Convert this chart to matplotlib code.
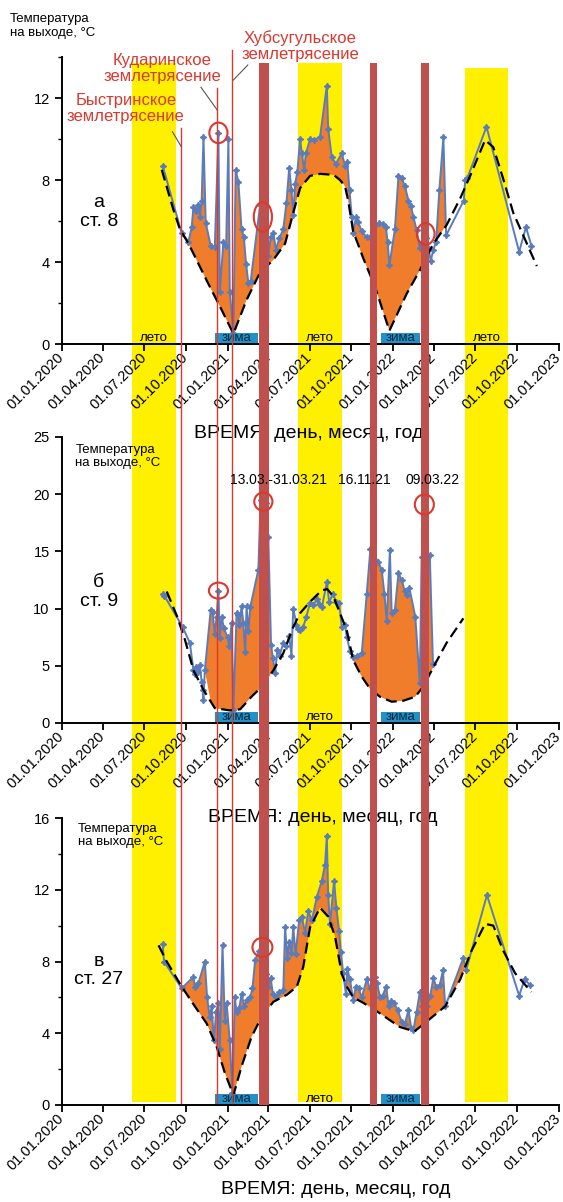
import numpy as np
import pandas as pd
import matplotlib
matplotlib.use("Agg")
import matplotlib.pyplot as plt
import matplotlib.dates as mdates
import matplotlib.transforms as mtransforms
from matplotlib.patches import Ellipse
from matplotlib.ticker import MultipleLocator

plt.rcParams['font.family'] = ['Liberation Sans', 'DejaVu Sans']

# --- ст. 8 ---
st8_dates = ["11.08.2020", "22.09.2020", "07.10.2020", "14.10.2020", "18.10.2020", "24.10.2020",
             "29.10.2020", "01.11.2020", "05.11.2020", "09.11.2020", "14.11.2020", "25.11.2020",
             "04.12.2020", "12.12.2020", "15.12.2020", "23.12.2020", "29.12.2020", "03.01.2021",
             "06.01.2021", "14.01.2021", "19.01.2021", "25.01.2021", "01.02.2021", "06.02.2021",
             "11.02.2021", "16.02.2021", "21.02.2021", "14.03.2021", "17.03.2021", "21.03.2021",
             "27.03.2021", "01.04.2021", "06.04.2021", "12.04.2021", "18.04.2021", "25.04.2021",
             "04.05.2021", "11.05.2021", "17.05.2021", "22.05.2021", "26.05.2021", "30.05.2021",
             "04.06.2021", "10.06.2021", "14.06.2021", "19.06.2021", "23.06.2021", "02.07.2021",
             "11.07.2021", "24.07.2021", "08.08.2021", "11.08.2021", "19.08.2021", "28.08.2021",
             "10.09.2021", "17.09.2021", "22.09.2021", "27.09.2021", "02.10.2021", "05.10.2021",
             "11.10.2021", "16.10.2021", "24.10.2021", "04.11.2021", "11.11.2021", "02.12.2021",
             "09.12.2021", "16.12.2021", "20.12.2021", "24.12.2021", "05.01.2022", "13.01.2022",
             "20.01.2022", "27.01.2022", "04.02.2022", "09.02.2022", "15.02.2022", "22.02.2022",
             "01.03.2022", "10.03.2022", "15.03.2022", "20.03.2022", "25.03.2022", "31.03.2022",
             "06.04.2022", "13.04.2022", "22.04.2022", "28.04.2022", "06.06.2022", "09.06.2022",
             "14.06.2022", "26.07.2022", "06.10.2022", "21.10.2022", "02.11.2022"]
st8_temp = [8.7, 5.4, 5.0, 5.7, 6.7, 6.5,
            6.8, 6.2, 7.0, 10.1, 5.9, 4.8,
            4.75, 10.3, 2.55, 5.0, 4.8, 10.0,
            2.55, 0.55, 8.5, 7.9, 5.6, 5.2,
            3.9, 3.0, 3.05, 6.8, 6.55, 6.0,
            4.8, 4.3, 5.2, 5.4, 4.6, 5.15,
            5.6, 6.9, 8.6, 7.5, 6.3, 7.8,
            8.4, 10.0, 9.3, 8.5, 9.3, 10.0,
            9.95, 10.1, 12.6, 10.5, 9.1, 8.8,
            9.3, 8.7, 8.9, 7.5, 6.2, 5.4,
            6.2, 5.95, 5.5, 5.2, 5.2, 5.9,
            5.85, 5.7, 5.0, 3.85, 5.6, 8.2,
            8.1, 7.7, 7.0, 6.75, 6.2, 5.55,
            4.7, 5.4, 5.15, 4.7, 4.05, 4.6,
            5.0, 7.5, 10.1, 5.3, 7.0, 8.0,
            8.1, 10.6, 4.5, 5.7, 4.8]
st8_trend_dates = ["09.08.2020", "03.09.2020", "18.09.2020", "07.10.2020", "16.11.2020", "16.12.2020",
                   "14.01.2021", "12.02.2021", "14.03.2021", "12.04.2021", "08.05.2021", "26.05.2021",
                   "10.06.2021", "02.07.2021", "24.07.2021", "23.08.2021", "06.09.2021", "17.09.2021",
                   "24.09.2021", "05.10.2021", "27.10.2021", "22.11.2021", "24.12.2021", "31.01.2022",
                   "01.03.2022", "31.03.2022", "29.04.2022", "29.05.2022", "20.06.2022", "23.07.2022",
                   "10.08.2022", "01.09.2022", "23.09.2022", "14.11.2022"]
st8_trend = [8.5, 6.6, 5.6, 4.9, 3.1, 1.8,
             0.5, 2.15, 3.5, 4.1, 4.9, 6.4,
             7.6, 8.2, 8.3, 8.25, 8.0, 7.7,
             7.0, 5.5, 4.2, 2.8, 0.65, 2.45,
             3.6, 4.9, 5.8, 7.1, 8.2, 9.95,
             9.6, 8.05, 6.4, 3.8]
st8_fill = [("01.10.2020", "15.05.2022")]

# --- ст. 9 ---
st9_dates = ["11.08.2020", "15.08.2020", "24.09.2020", "10.10.2020", "18.10.2020", "21.10.2020",
             "24.10.2020", "28.10.2020", "01.11.2020", "05.11.2020", "07.11.2020", "09.11.2020",
             "12.11.2020", "25.11.2020", "29.11.2020", "04.12.2020", "08.12.2020", "12.12.2020",
             "15.12.2020", "19.12.2020", "24.12.2020", "01.01.2021", "05.01.2021", "10.01.2021",
             "14.01.2021", "21.01.2021", "24.01.2021", "27.01.2021", "01.02.2021", "05.02.2021",
             "09.02.2021", "12.02.2021", "16.02.2021", "20.02.2021", "10.03.2021", "15.03.2021",
             "19.03.2021", "27.03.2021", "01.04.2021", "07.04.2021", "11.04.2021", "16.04.2021",
             "21.04.2021", "26.04.2021", "04.05.2021", "11.05.2021", "17.05.2021", "22.05.2021",
             "26.05.2021", "02.06.2021", "06.06.2021", "10.06.2021", "17.06.2021", "24.06.2021",
             "02.07.2021", "09.07.2021", "17.07.2021", "22.07.2021", "28.07.2021", "08.08.2021",
             "13.08.2021", "22.08.2021", "28.08.2021", "04.09.2021", "10.09.2021", "17.09.2021",
             "21.09.2021", "28.09.2021", "05.10.2021", "13.10.2021", "24.10.2021", "04.11.2021",
             "12.11.2021", "29.11.2021", "07.12.2021", "13.12.2021", "18.12.2021", "25.12.2021",
             "29.12.2021", "05.01.2022", "13.01.2022", "20.01.2022", "27.01.2022", "01.02.2022",
             "06.02.2022", "19.02.2022", "01.03.2022", "05.03.2022", "12.03.2022", "17.03.2022",
             "23.03.2022", "30.03.2022"]
st9_temp = [11.3, 11.1, 8.4, 7.0, 4.6, 4.3,
            4.9, 4.5, 5.1, 3.6, 2.9, 2.0,
            4.6, 9.9, 9.7, 7.8, 9.3, 11.5,
            7.4, 9.3, 8.3, 7.5, 6.7, 8.7,
            1.1, 9.6, 9.4, 8.6, 10.2, 8.7,
            6.2, 10.2, 8.0, 10.1, 13.4, 19.5,
            19.8, 19.2, 16.3, 6.8, 5.7, 4.4,
            6.4, 5.9, 7.0, 6.7, 7.6, 5.9,
            10.0, 8.6, 8.2, 8.1, 8.4, 9.3,
            10.5, 10.3, 10.8, 10.4, 10.1, 12.3,
            10.6, 11.3, 10.6, 10.5, 8.4, 8.55,
            7.55, 6.3, 5.8, 5.9, 6.1, 11.3,
            15.2, 14.1, 13.4, 11.3, 8.9, 15.1,
            9.6, 9.9, 13.1, 12.5, 11.5, 11.2,
            11.8, 9.3, 3.5, 14.5, 19.3, 14.3,
            14.7, 5.2]
st9_trend_dates = ["20.08.2020", "12.09.2020", "29.09.2020", "18.10.2020", "09.11.2020", "04.12.2020",
                   "06.01.2021", "29.01.2021", "23.02.2021", "21.03.2021", "12.04.2021", "04.05.2021",
                   "26.05.2021", "10.06.2021", "02.07.2021", "28.07.2021", "09.08.2021", "22.08.2021",
                   "06.09.2021", "21.09.2021", "05.10.2021", "24.10.2021", "11.11.2021", "03.12.2021",
                   "29.12.2021", "24.01.2022", "19.02.2022", "09.03.2022", "31.03.2022", "29.04.2022",
                   "05.06.2022"]
st9_trend = [11.5, 9.3, 7.3, 4.6, 2.9, 1.3,
             1.1, 1.2, 2.3, 3.3, 4.6, 6.1,
             8.4, 9.6, 10.6, 11.6, 11.7, 11.1,
             9.6, 8.1, 5.5, 4.05, 3.0, 2.3,
             1.86, 1.95, 2.3, 3.2, 4.9, 7.0,
             9.15]
st9_fill = [("15.11.2020", "20.04.2021"), ("01.10.2021", "10.04.2022")]

# --- ст. 27 ---
st27_dates = ["11.08.2020", "14.08.2020", "22.09.2020", "18.10.2020", "21.10.2020", "29.10.2020",
              "12.11.2020", "17.11.2020", "23.11.2020", "27.11.2020", "02.12.2020", "07.12.2020",
              "12.12.2020", "15.12.2020", "21.12.2020", "26.12.2020", "30.12.2020", "06.01.2021",
              "12.01.2021", "17.01.2021", "21.01.2021", "27.01.2021", "01.02.2021", "07.02.2021",
              "12.02.2021", "20.02.2021", "25.02.2021", "03.03.2021", "12.03.2021", "17.03.2021",
              "22.03.2021", "27.03.2021", "01.04.2021", "06.04.2021", "11.04.2021", "17.04.2021",
              "25.04.2021", "04.05.2021", "08.05.2021", "13.05.2021", "17.05.2021", "22.05.2021",
              "26.05.2021", "31.05.2021", "08.06.2021", "14.06.2021", "21.06.2021", "28.06.2021",
              "06.07.2021", "17.07.2021", "28.07.2021", "04.08.2021", "08.08.2021", "11.08.2021",
              "15.08.2021", "24.08.2021", "29.08.2021", "04.09.2021", "08.09.2021", "13.09.2021",
              "19.09.2021", "22.09.2021", "28.09.2021", "05.10.2021", "11.10.2021", "17.10.2021",
              "24.10.2021", "04.11.2021", "11.11.2021", "22.11.2021", "27.11.2021", "03.12.2021",
              "09.12.2021", "17.12.2021", "22.12.2021", "27.12.2021", "03.01.2022", "11.01.2022",
              "20.01.2022", "27.01.2022", "04.02.2022", "10.02.2022", "15.02.2022", "22.02.2022",
              "01.03.2022", "06.03.2022", "11.03.2022", "17.03.2022", "24.03.2022", "31.03.2022",
              "06.04.2022", "14.04.2022", "21.04.2022", "26.04.2022", "05.06.2022", "11.06.2022",
              "27.07.2022", "06.10.2022", "18.10.2022", "30.10.2022"]
st27_temp = [9.0, 8.0, 6.5, 7.15, 6.6, 6.8,
             8.0, 6.0, 4.9, 5.5, 3.6, 5.2,
             5.7, 3.1, 8.9, 4.7, 5.7, 3.6,
             0.65, 6.0, 5.2, 5.4, 6.2, 5.5,
             5.85, 6.0, 6.5, 8.1, 8.6, 8.9,
             8.4, 7.3, 6.6, 7.1, 6.2, 6.0,
             6.3, 6.4, 9.9, 8.2, 9.1, 8.5,
             9.9, 8.4, 10.3, 10.5, 9.6, 10.8,
             10.3, 11.6, 12.5, 13.4, 15.0, 11.7,
             10.1, 12.5, 11.0, 9.7, 8.55, 7.35,
             6.2, 7.6, 7.0, 5.85, 6.6, 6.5,
             6.0, 7.0, 6.5, 7.15, 6.8, 6.0,
             6.1, 6.6, 5.5, 5.8, 5.7, 5.3,
             4.65, 4.5, 5.3, 4.3, 4.2, 5.2,
             6.3, 5.5, 6.6, 5.5, 6.1, 7.1,
             6.6, 6.7, 7.5, 5.5, 8.2, 7.5,
             11.7, 6.1, 7.0, 6.7]
st27_trend_dates = ["02.08.2020", "20.08.2020", "22.09.2020", "21.10.2020", "16.11.2020", "08.12.2020",
                    "26.12.2020", "14.01.2021", "01.02.2021", "23.02.2021", "17.03.2021", "12.04.2021",
                    "12.05.2021", "03.06.2021", "17.06.2021", "02.07.2021", "24.07.2021", "11.08.2021",
                    "26.08.2021", "10.09.2021", "21.09.2021", "05.10.2021", "27.10.2021", "22.11.2021",
                    "18.12.2021", "16.01.2022", "17.02.2022", "16.03.2022", "26.04.2022", "29.05.2022",
                    "23.06.2022", "23.07.2022", "10.08.2022", "01.09.2022", "27.09.2022", "02.11.2022"]
st27_trend = [8.9, 8.0, 6.6, 5.5, 4.55, 3.25,
              1.8, 0.55, 2.15, 3.8, 4.9, 5.75,
              6.15, 6.6, 7.7, 9.9, 11.0, 10.5,
              9.4, 7.3, 6.6, 6.0, 5.7, 5.3,
              4.85, 4.35, 4.1, 4.65, 5.5, 7.0,
              8.6, 10.1, 10.0, 8.6, 7.35, 6.3]
st27_fill = [("20.09.2020", "15.06.2022")]

# сезоны и события
summer = [("04.06.2020", "09.09.2020"), ("06.06.2021", "10.09.2021"), ("08.06.2022", "12.09.2022")]
winter = [("04.12.2020", "10.03.2021"), ("05.12.2021", "01.03.2022")]
anomalies = [("12.03.2021", "03.04.2021"), ("11.11.2021", "27.11.2021"), ("04.03.2022", "21.03.2022")]
quakes = ["21.09.2020", "09.12.2020", "12.01.2021"]
quake_names = ["Быстринское\nземлетрясение", "Кударинское\nземлетрясение", "Хубсугульское\nземлетрясение"]
anomaly_labels = ["13.03.-31.03.21", "16.11.21", "09.03.22"]


def dt(s):
    return mdates.date2num(pd.to_datetime(s, format="%d.%m.%Y"))


YELLOW = "#fff000"
ORANGE = "#ef7d2c"
BLUE = "#5b7cbb"
BOX = "#2092c8"
BAR = "#c0504d"
RED = "#d9392e"

W, H = 563, 1202
fig = plt.figure(figsize=(W / 100, H / 100), dpi=100)
# пиксельные координаты от верхнего левого угла
px = mtransforms.Affine2D().scale(1 / W, -1 / H).translate(0, 1) + fig.transFigure

X0, X1 = 61.5, 558.6
t0, t1 = dt("01.01.2020"), dt("01.01.2023")


def sheet(z):
    a = fig.add_axes([X0 / W, 0, (X1 - X0) / W, 1], zorder=z)
    a.set_xlim(t0, t1)
    a.set_ylim(H, 0)
    a.axis("off")
    a.patch.set_visible(False)
    return a


bg = sheet(-1)
ov = sheet(10)

# летние периоды
for (a, b), top in zip(summer, [63, 63, 68]):
    bg.fill_betweenx([top, 1102], dt(a), dt(b), color=YELLOW, lw=0)

# периоды аномалий и землетрясения
for a, b in anomalies:
    ov.fill_betweenx([63, 1105], dt(a), dt(b), color=BAR, lw=0, zorder=2)
for q, top in zip(quakes, [128, 88, 50]):
    ov.plot([dt(q), dt(q)], [top, 1103], color=RED, lw=1.0, zorder=3)

for name, (x, y) in zip(quake_names, [(125.7, 108.5), (162, 68.5), (300, 46)]):
    ov.text(x, y, name, transform=px, color=RED, fontsize=12, ha="center", va="center",
            multialignment="center", linespacing=1.15, zorder=6)
for (xa, ya, xb, yb) in [(172.4, 131.7, 181.3, 146.7), (201, 87.3, 217.2, 110), (247.8, 65, 233.4, 80)]:
    ov.plot([xa, xb], [ya, yb], transform=px, color="#555555", lw=0.8, zorder=5)

for s, x in zip(anomaly_labels, [278, 364.5, 432.7]):
    ov.text(x, 480, s, transform=px, fontsize=10, ha="center", va="center", zorder=6)

panels = [
    dict(top=57, bottom=344, ymax=14, step=4, minor=2, dates=st8_dates, temp=st8_temp,
         tdates=st8_trend_dates, trend=st8_trend, fill=st8_fill, tag="а\nст. 8", tag_y=212,
         head=(10, 26), xlab=(309, 434), leto=[0, 1, 2],
         rings=[("12.12.2020", 10.3, 40, 1.0), ("20.03.2021", 6.2, 40, 1.45), ("14.03.2022", 5.37, 39, 1.05)]),
    dict(top=437, bottom=723, ymax=25, step=5, minor=None, dates=st9_dates, temp=st9_temp,
         tdates=st9_trend_dates, trend=st9_trend, fill=st9_fill, tag="б\nст. 9", tag_y=592,
         head=(75.4, 456.5), xlab=(323, 817), leto=[1],
         rings=[("12.12.2020", 11.57, 42, 1.4), ("21.03.2021", 19.35, 40, 1.6), ("11.03.2022", 19.1, 42, 1.75)]),
    dict(top=818, bottom=1105, ymax=16, step=4, minor=2, dates=st27_dates, temp=st27_temp,
         tdates=st27_trend_dates, trend=st27_trend, fill=st27_fill, tag="в\nст. 27", tag_y=970.5,
         head=(78, 835.5), xlab=(336, 1190), leto=[1],
         rings=[("19.03.2021", 8.79, 44, 1.06)]),
]

for p in panels:
    ax = fig.add_axes([X0 / W, 1 - p["bottom"] / H, (X1 - X0) / W, (p["bottom"] - p["top"]) / H], zorder=0)
    ax.patch.set_visible(False)

    x = dt(p["dates"])
    y = np.array(p["temp"])
    xt = dt(p["tdates"])
    yt = np.array(p["trend"])

    # заливка превышения над трендом
    xs = np.union1d(x, xt)
    ys = np.interp(xs, x, y)
    bs = np.interp(xs, xt, yt)
    inside = np.zeros(len(xs), bool)
    for a, b in p["fill"]:
        inside |= (xs >= dt(a)) & (xs <= dt(b))
    ax.fill_between(xs, ys, bs, where=inside & (ys > bs), interpolate=True, color=ORANGE, lw=0, zorder=1)

    ax.plot(x, y, color=BLUE, lw=1.4, marker=(4, 1, 0), ms=4.5, mec=BLUE, zorder=2)
    ax.plot(xt, yt, color="black", lw=1.6, ls=(0, (5, 2.5)), zorder=3)

    trans = mtransforms.blended_transform_factory(ax.transData, ax.transAxes)
    for a, b in winter:
        ax.axvspan(dt(a), dt(b), ymin=0.004, ymax=0.038, color=BOX, lw=0, zorder=4)
        ax.text((dt(a) + dt(b)) / 2, 0.0, "зима", transform=trans, fontsize=9.5, color="#10243a",
                ha="center", va="bottom", zorder=5)
    for i in p["leto"]:
        a, b = summer[i]
        ax.text((dt(a) + dt(b)) / 2, 0.0, "лето", transform=trans, fontsize=9.5,
                ha="center", va="bottom", zorder=5)

    ax.set_xlim(t0, t1)
    ax.set_ylim(0, p["ymax"])
    ax.yaxis.set_major_locator(MultipleLocator(p["step"]))
    if p["minor"]:
        ax.yaxis.set_minor_locator(MultipleLocator(p["minor"]))
    ax.xaxis.set_major_locator(mdates.MonthLocator(bymonth=[1, 4, 7, 10]))
    ax.xaxis.set_major_formatter(mdates.DateFormatter("%d.%m.%Y"))
    for s in ["top", "right"]:
        ax.spines[s].set_visible(False)
    for s in ["left", "bottom"]:
        ax.spines[s].set_linewidth(1.4)
    ax.tick_params(axis="both", which="major", direction="out", length=5, width=1.3, labelsize=10.5)
    ax.tick_params(axis="y", which="minor", direction="out", length=3, width=1.0)
    ax.tick_params(axis="x", labelrotation=45, pad=3)
    plt.setp(ax.get_xticklabels(), ha="right", va="center", rotation_mode="anchor")

    ax.text(p["xlab"][0], p["xlab"][1], "ВРЕМЯ: день, месяц, год", transform=px, fontsize=14,
            ha="center", va="center")
    ax.text(p["head"][0], p["head"][1], "Температура\nна выходе, °C", transform=px, fontsize=9.5,
            ha="left", va="center", linespacing=1.2)
    ax.text(98.7, p["tag_y"], p["tag"], transform=px, fontsize=14, ha="center", va="center",
            multialignment="center", linespacing=1.15)

    for d, v, w, h in p["rings"]:
        ov.add_artist(Ellipse((dt(d), v), w, h, transform=ax.transData, fill=False,
                              ec=RED, lw=1.5, zorder=7))

fig.savefig("out.png", dpi=100)
